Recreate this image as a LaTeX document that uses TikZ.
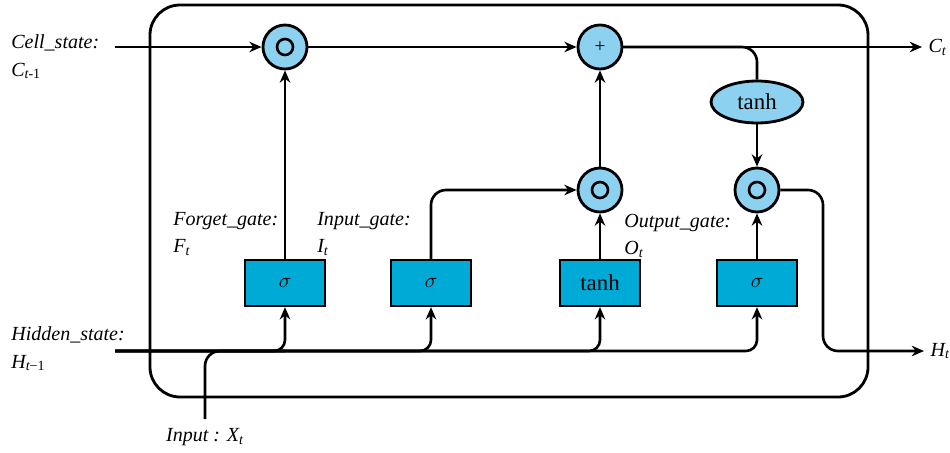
\documentclass[tikz,border=0pt]{standalone}
\usepackage{fontspec}
\setmainfont{Liberation Serif}
\usetikzlibrary{arrows.meta,shapes.geometric}
\definecolor{cellblue}{RGB}{140,210,240}
\definecolor{gateblue}{RGB}{0,170,215}
\tikzset{
  opnode/.style={draw, circle, line width=1.6pt, fill=cellblue, minimum size=0.88cm, inner sep=0pt},
  multnode/.style={opnode, path picture={
      \draw[line width=1.5pt] (path picture bounding box.center) circle (0.16cm);
      \fill (path picture bounding box.center) circle (0.065cm);}},
  gatebox/.style={draw, rectangle, line width=1.3pt, fill=gateblue, minimum width=1.6cm, minimum height=0.92cm, font=\fontsize{13}{15}\selectfont},
  lbl/.style={align=left, font=\itshape\fontsize{11.4}{15.5}\selectfont, inner sep=0pt},
}
\begin{document}
\begin{tikzpicture}[x=0.02cm,y=-0.02cm,>={Stealth[length=7pt,width=6pt]},line width=1.5pt]
\useasboundingbox (0,0) rectangle (950,453);
% outer cell frame
\draw[line width=1.6pt, rounded corners=0.6cm] (150,5) rectangle (868,397);

% state ends
\coordinate (cin) at (115,47);
\coordinate (cout) at (922,47);
\coordinate (hin) at (115,351);
\coordinate (hout) at (924,351);
\coordinate (hturn) at (823,351);
\coordinate (xin) at (205,419);

% operations on the cell state
\node[multnode] (m1) at (285,47) {};
\node[opnode, font=\fontsize{11}{12}\selectfont] (plus) at (600,47) {+};
\node[multnode] (m2) at (600,190) {};
\node[multnode] (m3) at (757,190) {};
\node[draw, ellipse, line width=1.6pt, fill=cellblue, minimum width=1.84cm, minimum height=0.84cm, inner sep=0pt, font=\fontsize{13}{15}\selectfont] (th) at (757,102) {tanh};

% gates
\node[gatebox] (fg) at (285,283) {$\sigma$};
\node[gatebox] (ig) at (431,283) {$\sigma$};
\node[gatebox] (cg) at (600,283) {tanh};
\node[gatebox] (og) at (757,283) {$\sigma$};

% labels
\node[lbl, anchor=west] (lcell) at (10,57) {Cell\_state:\\C\textsubscript{t\upshape -1}};
\node[lbl, anchor=west] (lhid) at (10,349) {Hidden\_state:\\H\textsubscript{t\upshape −1}};
\node[lbl, anchor=west] (lfg) at (172,234) {Forget\_gate:\\F\textsubscript{t}};
\node[lbl, anchor=west] (lig) at (316,234) {Input\_gate:\\I\textsubscript{t}};
\node[lbl, anchor=west] (log) at (623,236) {Output\_gate:\\O\textsubscript{t}};
\node[lbl] (lx) at (205,437) {Input : X\textsubscript{t}};
\node[lbl, anchor=west, inner sep=3pt] (lct) at (cout) {C\textsubscript{t}};
\node[lbl, anchor=west, inner sep=3pt] (lht) at (hout) {H\textsubscript{t}};

% cell state path
\draw[->] (cin) -- (m1);
\draw[->] (m1) -- (plus);
\draw[->] (plus) -- (cout);
\draw[rounded corners=0.3cm] (plus.east) -| (th.north);
\draw[->] (th) -- (m3);

% gate outputs
\draw[->] (fg) -- (m1);
\draw[->, rounded corners=0.3cm] (ig.north) |- (m2.west);
\draw[->] (cg) -- (m2);
\draw[->] (m2) -- (plus);
\draw[->] (og) -- (m3);
\draw[->, rounded corners=0.3cm] (m3.east) -| (hturn) -- (hout);

% hidden state and input
\draw[->, rounded corners=0.22cm] (hin) -| (fg.south);
\draw[->, rounded corners=0.22cm] (hin) -| (ig.south);
\draw[->, rounded corners=0.22cm] (hin) -| (cg.south);
\draw[->, rounded corners=0.22cm] (hin) -| (og.south);
\draw[rounded corners=0.3cm] (xin) |- (fg.south |- hin);
\end{tikzpicture}
\end{document}
